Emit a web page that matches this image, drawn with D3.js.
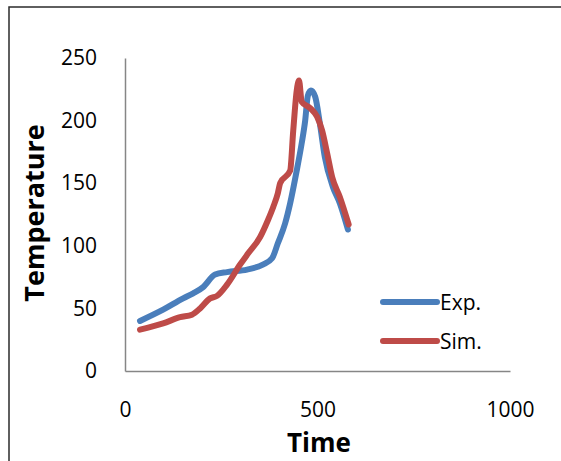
<!DOCTYPE html>
<html>
<head>
  <meta charset="utf-8">
  <script src="https://d3js.org/d3.v7.min.js"></script>
  <style>
    body { margin: 0; background: #fff; }
    text { font-family: "Open Sans", sans-serif; fill: #000; }
  </style>
</head>
<body>
<script>
  // data
  var expTime = [39, 99, 151, 177, 203, 234, 265, 317, 358, 382, 397, 416, 429, 446, 459, 468, 475, 483, 494, 506, 519, 540, 558, 579];
  var expTemp = [40, 49, 58, 62, 67, 77, 79, 81, 85, 90, 102, 118, 134, 160, 182, 200, 220, 224, 219, 198, 171, 147, 134, 113];
  var simTime = [39, 99, 143, 174, 195, 221, 239, 265, 299, 320, 351, 372, 385, 397, 403, 429, 437, 446, 452, 459, 481, 499, 512, 525, 538, 558, 581];
  var simTemp = [33, 38, 43, 45, 50, 58, 60, 69, 85, 94, 107, 121, 131, 142, 150, 160, 192, 224, 232, 215, 210, 203, 192, 174, 155, 139, 117];
  var xTicks = [0, 500, 1000];
  var yTicks = [0, 50, 100, 150, 200, 250];

  var series = [
    {name: "Exp.", color: "#4a7ebb", pts: expTime.map(function(t, i) { return [t, expTemp[i]]; })},
    {name: "Sim.", color: "#be4b48", pts: simTime.map(function(t, i) { return [t, simTemp[i]]; })}
  ];

  var W = 561, H = 461;
  var svg = d3.select("body").append("svg")
      .attr("width", W)
      .attr("height", H);

  // outer chart border (runs off the right and bottom)
  svg.append("rect")
      .attr("x", 9).attr("y", 7)
      .attr("width", 620).attr("height", 520)
      .attr("fill", "none")
      .attr("stroke", "#2b2b2b")
      .attr("stroke-width", 1.5);

  var x = d3.scaleLinear().domain([0, 1000]).range([125, 510]);
  var y = d3.scaleLinear().domain([0, 250]).range([371, 58]);

  // axes, no tick marks
  var xAxis = svg.append("g")
      .attr("transform", "translate(0,371)")
      .call(d3.axisBottom(x).tickValues(xTicks).tickFormat(d3.format("d")).tickSize(0).tickPadding(31));
  var yAxis = svg.append("g")
      .attr("transform", "translate(125,0)")
      .call(d3.axisLeft(y).tickValues(yTicks).tickSize(0).tickPadding(28));
  [xAxis, yAxis].forEach(function(a) {
    a.select(".domain").attr("stroke", "#868686").attr("stroke-width", 1.5);
    a.selectAll("text")
        .style("font-family", "'Open Sans', sans-serif")
        .style("font-size", "21px")
        .attr("fill", "#000");
  });

  var line = d3.line()
      .x(function(d) { return x(d[0]); })
      .y(function(d) { return y(d[1]); })
      .curve(d3.curveMonotoneX);

  svg.selectAll("path.series")
    .data(series)
    .enter().append("path")
      .attr("class", "series")
      .attr("d", function(d) { return line(d.pts); })
      .attr("fill", "none")
      .attr("stroke", function(d) { return d.color; })
      .attr("stroke-width", 6)
      .attr("stroke-linecap", "round")
      .attr("stroke-linejoin", "round");

  // axis titles
  svg.append("text")
      .attr("x", 319).attr("y", 452)
      .attr("text-anchor", "middle")
      .style("font-size", "26px")
      .style("font-weight", "bold")
      .text("Time");
  svg.append("text")
      .attr("transform", "translate(44,213) rotate(-90)")
      .attr("text-anchor", "middle")
      .style("font-size", "27px")
      .style("font-weight", "bold")
      .text("Temperature");

  // legend
  var leg = svg.selectAll("g.legend")
    .data(series)
    .enter().append("g")
      .attr("class", "legend")
      .attr("transform", function(d, i) { return "translate(383," + (302 + i * 39) + ")"; });
  leg.append("line")
      .attr("x1", 0).attr("x2", 54)
      .attr("stroke", function(d) { return d.color; })
      .attr("stroke-width", 6)
      .attr("stroke-linecap", "round");
  leg.append("text")
      .attr("x", 57).attr("y", 8)
      .style("font-size", "21px")
      .text(function(d) { return d.name; });
</script>
</body>
</html>
